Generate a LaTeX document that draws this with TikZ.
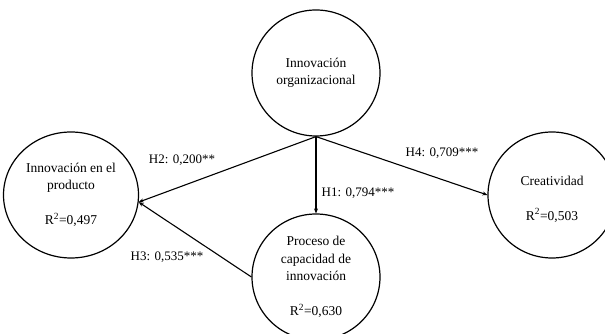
\documentclass[tikz,border=0pt]{standalone}
\usepackage{fontspec}
\setmainfont{Liberation Serif}
\usetikzlibrary{positioning, arrows.meta, shapes.geometric}
\tikzstyle{construct} = [ellipse, draw=black, line width=1.2pt, minimum width=128pt, minimum height=126pt, inner sep=0pt, align=center, font=\fontsize{13.5}{17.5}\selectfont]
\tikzstyle{coef} = [inner sep=1pt, font=\fontsize{13}{16}\selectfont]
\tikzstyle{arrow} = [line width=1.1pt, -{Stealth[length=5pt, width=4pt]}]

\begin{document}
\begin{tikzpicture}[x=1pt, y=1pt, node distance=204pt]
        \useasboundingbox (0,0) rectangle (605,334);
        \node (org) [construct] at (316,261) {Innovación\\organizacional};
        \node (proceso) [construct, below of=org] {Proceso de\\capacidad de\\innovación\\[17.5pt]R\textsuperscript{2}=0,630};
        \node (producto) [construct, minimum width=135pt, below of=org, node distance=122pt, xshift=-245pt] {Innovación en el\\producto\\[17.5pt]R\textsuperscript{2}=0,497};
        \node (creat) [construct, below of=org, node distance=122pt, xshift=236pt] {\mbox{}\\Creatividad\\[17.5pt]R\textsuperscript{2}=0,503};

        \node (h2) [coef] at (182,174) {H2: 0,200**};
        \node (h1) [coef] at (358,141) {H1: 0,794***};
        \node (h4) [coef] at (442,181) {H4: 0,709***};
        \node (h3) [coef] at (167,77) {H3: 0,535***};

        \draw [arrow] (org.south) -- (producto.-6);
        \draw [arrow] (org.south) -- (proceso.north);
        \draw [arrow] (org.south) -- (creat.west);
        \draw [arrow] (proceso.west) -- (producto.-6);
\end{tikzpicture}
\end{document}
